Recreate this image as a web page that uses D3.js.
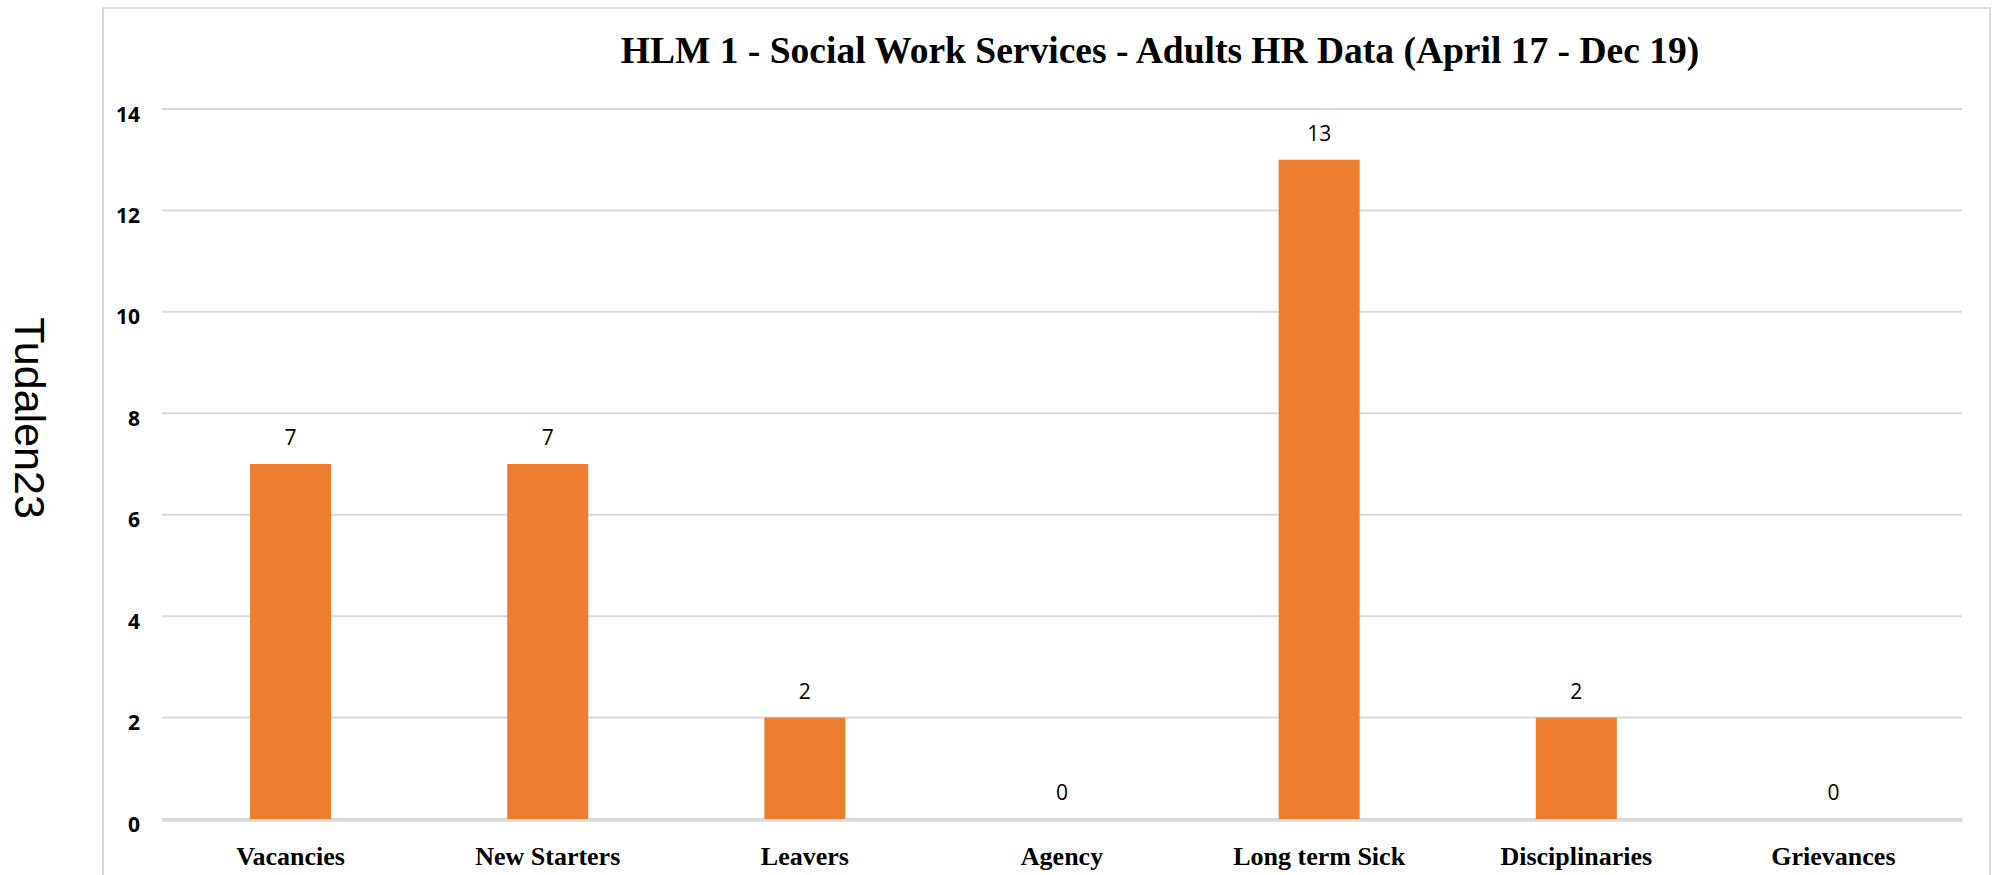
<!DOCTYPE html>
<html>
<head>
<meta charset="utf-8">
<script src="https://cdn.jsdelivr.net/npm/d3@7"></script>
<style>
  body { margin: 0; background: #fff; }
  svg { display: block; }
</style>
</head>
<body>
<svg id="main-chart"></svg>
<script>
const categories = ["Vacancies", "New Starters", "Leavers", "Agency", "Long term Sick", "Disciplinaries", "Grievances"];
const values = [7, 7, 2, 0, 13, 2, 0];
const yTicks = [0, 2, 4, 6, 8, 10, 12, 14];
const chartTitle = "HLM 1 - Social Work Services - Adults HR Data (April 17 - Dec 19)";
const sideLabel = "Tudalen23";

const width = 1997, height = 875;
const plot = { left: 162, right: 1962, top: 109, bottom: 819 };

const svg = d3.select("#main-chart")
    .attr("width", width)
    .attr("height", height);

// chart frame
svg.append("rect")
    .attr("x", 103).attr("y", 8)
    .attr("width", 1887).attr("height", 900)
    .attr("fill", "#fff")
    .attr("stroke", "#d9d9d9")
    .attr("stroke-width", 2);

const xScale = d3.scaleBand()
    .domain(categories)
    .range([plot.left, plot.right])
    .paddingInner(0.685)
    .paddingOuter(0.3425);

const yScale = d3.scaleLinear()
    .domain([0, 14])
    .range([plot.bottom, plot.top]);

// gridlines
svg.append("g")
    .selectAll("line")
    .data(yTicks)
    .join("line")
    .attr("x1", plot.left).attr("x2", plot.right)
    .attr("y1", d => yScale(d)).attr("y2", d => yScale(d))
    .attr("stroke", "#d9d9d9")
    .attr("stroke-width", 2);

// y axis labels
const yAxis = svg.append("g")
    .attr("transform", `translate(${plot.left}, 0)`)
    .call(d3.axisLeft(yScale).tickValues(yTicks).tickSize(0).tickPadding(22));
yAxis.select(".domain").remove();
yAxis.selectAll("text")
    .attr("dy", "0.62em")
    .attr("y", -1)
    .style("font-family", "'Open Sans', sans-serif")
    .style("font-weight", "bold")
    .style("font-size", "21px")
    .attr("fill", "#000");

// bars
svg.append("g")
    .selectAll("rect")
    .data(values)
    .join("rect")
    .attr("x", (d, i) => xScale(categories[i]))
    .attr("y", d => yScale(d))
    .attr("width", xScale.bandwidth())
    .attr("height", d => yScale(0) - yScale(d))
    .attr("fill", "#ed7d31");

// value labels
svg.append("g")
    .selectAll("text")
    .data(values)
    .join("text")
    .attr("x", (d, i) => xScale(categories[i]) + xScale.bandwidth() / 2)
    .attr("y", d => yScale(d) - 19)
    .attr("text-anchor", "middle")
    .style("font-family", "'Open Sans', sans-serif")
    .style("font-size", "21px")
    .attr("fill", "#000")
    .text(d => d);

// x axis
const xAxis = svg.append("g")
    .attr("transform", `translate(0, ${plot.bottom + 1})`)
    .call(d3.axisBottom(xScale).tickSize(0).tickPadding(27));
xAxis.select(".domain")
    .attr("stroke", "#d9d9d9")
    .attr("stroke-width", 2.5);
xAxis.selectAll("text")
    .attr("dy", "0.71em")
    .style("font-family", "'Liberation Serif', 'Times New Roman', serif")
    .style("font-weight", "bold")
    .style("font-size", "26px")
    .attr("fill", "#000");

// title
svg.append("text")
    .attr("x", 1160)
    .attr("y", 63)
    .attr("text-anchor", "middle")
    .style("font-family", "'Liberation Serif', 'Times New Roman', serif")
    .style("font-weight", "bold")
    .style("font-size", "37.5px")
    .attr("fill", "#000")
    .text(chartTitle);

// page side label
svg.append("text")
    .attr("transform", "translate(15, 418) rotate(90)")
    .attr("text-anchor", "middle")
    .style("font-family", "'Liberation Sans', Arial, sans-serif")
    .style("font-size", "43px")
    .attr("fill", "#000")
    .text(sideLabel);
</script>
</body>
</html>
